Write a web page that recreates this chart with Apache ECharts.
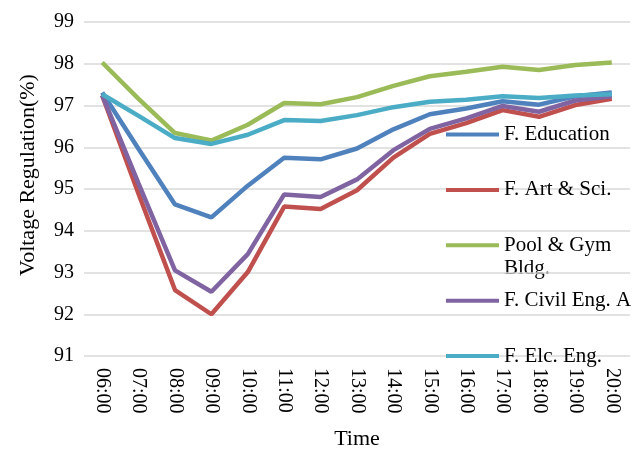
<!DOCTYPE html>
<html>
<head>
<meta charset="utf-8">
<script src="https://cdn.jsdelivr.net/npm/echarts@6/dist/echarts.min.js"></script>
<style>
html,body{margin:0;padding:0;background:#fff;}
#chart{width:644px;height:455px;}
</style>
</head>
<body>
<div id="chart"></div>
<script>
var times = ['06:00','07:00','08:00','09:00','10:00','11:00','12:00','13:00','14:00','15:00','16:00','17:00','18:00','19:00','20:00'];
var education = [97.31, 95.96, 94.63, 94.32, 95.08, 95.75, 95.71, 95.97, 96.43, 96.79, 96.93, 97.10, 97.02, 97.22, 97.31];
var artSci    = [97.24, 94.88, 92.58, 92.00, 93.01, 94.58, 94.52, 94.97, 95.75, 96.32, 96.58, 96.89, 96.73, 97.01, 97.16];
var poolGym   = [98.03, 97.16, 96.34, 96.16, 96.54, 97.06, 97.03, 97.20, 97.47, 97.70, 97.81, 97.93, 97.85, 97.97, 98.03];
var civilA    = [97.25, 95.13, 93.05, 92.54, 93.44, 94.87, 94.81, 95.23, 95.93, 96.44, 96.69, 96.99, 96.85, 97.12, 97.22];
var elcEng    = [97.27, 96.75, 96.22, 96.08, 96.30, 96.65, 96.63, 96.77, 96.96, 97.09, 97.14, 97.22, 97.18, 97.24, 97.27];
var seriesNames = ['F. Education', 'F. Art & Sci.', 'Pool & Gym Bldg.', 'F. Civil Eng. A', 'F. Elc. Eng.'];
var legendLabels = {'Pool & Gym Bldg.': 'Pool & Gym'};
var colors = ['#4f81bd', '#c0504d', '#9bbb59', '#8064a2', '#4bacc6'];
var seriesData = [education, artSci, poolGym, civilA, elcEng];
var yTicks = {min: 91, max: 99, interval: 1};

var FONT = '"Liberation Serif", "Times New Roman", serif';
var chart = echarts.init(document.getElementById('chart'), null, {renderer: 'canvas'});
var option = {
  animation: false,
  backgroundColor: '#ffffff',
  color: colors,
  grid: {left: 84, right: 14, top: 22, bottom: 93, containLabel: false},
  xAxis: {
    type: 'category',
    data: times,
    boundaryGap: true,
    name: 'Time',
    nameLocation: 'middle',
    nameGap: 72,
    nameTextStyle: {fontFamily: FONT, fontSize: 22, color: '#000'},
    axisLine: {show: false},
    axisTick: {show: false},
    axisLabel: {rotate: -90, margin: 12, fontFamily: FONT, fontSize: 20, color: '#000', interval: 0}
  },
  yAxis: {
    type: 'value',
    min: yTicks.min, max: yTicks.max, interval: yTicks.interval,
    axisLine: {show: false},
    axisTick: {show: false},
    axisLabel: {margin: 10, fontFamily: FONT, fontSize: 20, color: '#000'},
    splitLine: {lineStyle: {color: '#d9d9d9', width: 1.5}}
  },
  legend: {
    orient: 'vertical',
    left: 446,
    top: 124,
    padding: 0,
    itemWidth: 53,
    itemHeight: 14,
    itemGap: 34.4,
    icon: 'path://M0,0 L53,0 L53,4 L0,4 Z',
    data: seriesNames,
    formatter: function (n) { return legendLabels[n] || n; },
    textStyle: {fontFamily: FONT, fontSize: 21, color: '#000', lineHeight: 20}
  },
  graphic: [
    {type: 'text', x: 28, y: 175, rotation: Math.PI / 2,
     style: {text: 'Voltage Regulation(%)', font: '22px ' + FONT, fill: '#000', align: 'center', verticalAlign: 'middle'}},
    {type: 'text', x: 504, y: 268,
     style: {text: 'Bldg.', font: '21px ' + FONT, fill: '#000', align: 'left', verticalAlign: 'middle'}}
  ],
  series: seriesNames.map(function (n, i) {
    return {
      name: n,
      type: 'line',
      data: seriesData[i],
      symbol: 'none',
      showSymbol: false,
      lineStyle: {width: 4.5, color: colors[i]},
      itemStyle: {color: colors[i]}
    };
  })
};
chart.setOption(option);
</script>
</body>
</html>
